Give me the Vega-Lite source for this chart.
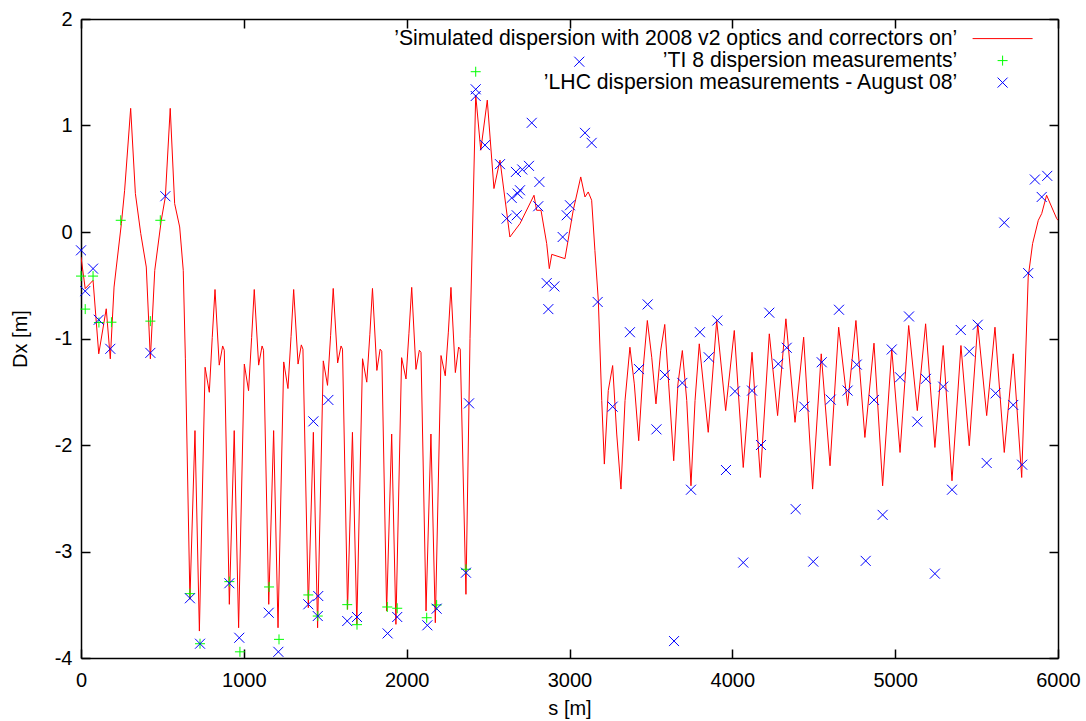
{
"$schema": "https://vega.github.io/schema/vega-lite/v6.json",
"width": 977, "height": 639,
"autosize": {"type": "none"},
"padding": {"left": 81, "top": 19, "right": 28, "bottom": 63},
"background": "white",
"config": {
 "font": "Liberation Sans",
 "view": {"stroke": null},
 "axis": {"grid": false, "domainColor": "black", "domainWidth": 1.5, "tickColor": "black", "tickWidth": 1.5, "tickSize": -9, "labelColor": "black", "labelFontSize": 20, "labelFont": "Liberation Sans", "titleFont": "Liberation Sans", "titleFontSize": 20, "titleFontWeight": "normal", "titleColor": "black", "labelFlush": false, "labelOverlap": false},
 "legend": {"orient": "none", "legendX": 911, "legendY": 9, "padding": 0,
   "labelFontSize": 21.2, "labelFont": "Liberation Sans", "labelColor": "black", "labelAlign": "right", "labelOffset": -56, "labelLimit": 2000,
   "symbolSize": 100, "symbolStrokeWidth": 1, "rowPadding": 0}
},
"datasets": {
 "sim": [
{"s":0,"dx":-0.235},{"s":26,"dx":-0.532},{"s":74,"dx":-0.454},{"s":109,"dx":-1.144},{"s":155,"dx":-0.721},{"s":180,"dx":-1.191},{"s":203,"dx":-0.517},{"s":217,"dx":-0.329},{"s":248,"dx":0.079},{"s":268,"dx":0.392},{"s":305,"dx":1.161},{"s":334,"dx":0.361},{"s":367,"dx":-0.015},{"s":401,"dx":-0.329},{"s":426,"dx":-1.191},{"s":453,"dx":-0.36},{"s":493,"dx":0.11},{"s":518,"dx":0.329},{"s":548,"dx":1.161},{"s":575,"dx":0.267},{"s":606,"dx":0.047},{"s":628,"dx":-0.36},{"s":641,"dx":-1.191},
{"s":669,"dx":-3.449},{"s":700,"dx":-1.865},{"s":727,"dx":-3.747},{"s":762,"dx":-1.27},{"s":788,"dx":-1.505},{"s":806,"dx":-0.99},{"s":823,"dx":-0.54},{"s":849,"dx":-1.25},{"s":870,"dx":-1.07},{"s":880,"dx":-1.11},
{"s":911,"dx":-3.496},{"s":941,"dx":-1.865},{"s":968,"dx":-3.716},{"s":1003,"dx":-1.24},{"s":1029,"dx":-1.49},{"s":1048,"dx":-0.99},{"s":1064,"dx":-0.54},{"s":1091,"dx":-1.25},{"s":1112,"dx":-1.07},{"s":1121,"dx":-1.11},
{"s":1153,"dx":-3.496},{"s":1183,"dx":-1.865},{"s":1210,"dx":-3.716},{"s":1245,"dx":-1.22},{"s":1271,"dx":-1.47},{"s":1290,"dx":-0.98},{"s":1306,"dx":-0.54},{"s":1333,"dx":-1.24},{"s":1353,"dx":-1.06},{"s":1363,"dx":-1.1},
{"s":1396,"dx":-3.528},{"s":1427,"dx":-1.881},{"s":1453,"dx":-3.716},{"s":1488,"dx":-1.21},{"s":1514,"dx":-1.44},{"s":1533,"dx":-0.97},{"s":1549,"dx":-0.53},{"s":1576,"dx":-1.23},{"s":1597,"dx":-1.07},{"s":1606,"dx":-1.1},
{"s":1637,"dx":-3.543},{"s":1667,"dx":-1.881},{"s":1694,"dx":-3.684},{"s":1729,"dx":-1.19},{"s":1755,"dx":-1.41},{"s":1774,"dx":-0.96},{"s":1790,"dx":-0.53},{"s":1817,"dx":-1.3},{"s":1837,"dx":-1.1},{"s":1847,"dx":-1.12},
{"s":1877,"dx":-3.559},{"s":1908,"dx":-1.897},{"s":1934,"dx":-3.684},{"s":1969,"dx":-1.18},{"s":1996,"dx":-1.38},{"s":2014,"dx":-0.95},{"s":2031,"dx":-0.52},{"s":2057,"dx":-1.29},{"s":2078,"dx":-1.11},{"s":2088,"dx":-1.13},
{"s":2119,"dx":-3.559},{"s":2149,"dx":-1.897},{"s":2176,"dx":-3.669},{"s":2211,"dx":-1.16},{"s":2237,"dx":-1.35},{"s":2256,"dx":-0.94},{"s":2272,"dx":-0.52},{"s":2299,"dx":-1.32},{"s":2319,"dx":-1.08},{"s":2329,"dx":-1.1},
{"s":2364,"dx":-3.402},{"s":2389,"dx":-1.0},{"s":2424,"dx":1.286},{"s":2455,"dx":0.768},{"s":2495,"dx":1.238},{"s":2536,"dx":0.408},{"s":2573,"dx":0.675},{"s":2634,"dx":-0.047},{"s":2696,"dx":0.079},{"s":2782,"dx":0.345},{"s":2798,"dx":0.204},{"s":2825,"dx":0.204},{"s":2860,"dx":-0.109},{"s":2876,"dx":-0.344},{"s":2891,"dx":-0.21},{"s":2972,"dx":-0.25},{"s":3023,"dx":0.204},{"s":3069,"dx":0.517},{"s":3095,"dx":0.329},{"s":3115,"dx":0.376},{"s":3136,"dx":0.298},{"s":3156,"dx":-0.172},{"s":3177,"dx":-0.643},{"s":3198,"dx":-1.583},{"s":3214,"dx":-2.179},{"s":3238,"dx":-1.489},{"s":3265,"dx":-1.254},{"s":3290,"dx":-1.897},{"s":3316,"dx":-2.414},{"s":3341,"dx":-1.583},{"s":3371,"dx":-1.082},{"s":3398,"dx":-1.426},{"s":3425,"dx":-1.96},{"s":3453,"dx":-1.27},{"s":3478,"dx":-0.831},{"s":3505,"dx":-1.176},{"s":3531,"dx":-1.614},{"s":3560,"dx":-1.113},{"s":3585,"dx":-0.868},{"s":3609,"dx":-1.426},{"s":3640,"dx":-2.148},{"s":3666,"dx":-1.426},{"s":3693,"dx":-1.113},{"s":3720,"dx":-1.583},{"s":3746,"dx":-2.383},{"s":3771,"dx":-1.583},{"s":3797,"dx":-1.05},{"s":3852,"dx":-1.881},{"s":3904,"dx":-0.831},{"s":3959,"dx":-1.677},{"s":4012,"dx":-0.925},{"s":4067,"dx":-2.211},{"s":4121,"dx":-1.129},{"s":4172,"dx":-2.305},{"s":4227,"dx":-0.956},{"s":4278,"dx":-1.724},{"s":4329,"dx":-0.815},{"s":4385,"dx":-1.787},{"s":4438,"dx":-0.988},{"s":4493,"dx":-2.414},{"s":4546,"dx":-1.144},{"s":4600,"dx":-2.195},{"s":4653,"dx":-0.894},{"s":4708,"dx":-1.63},{"s":4759,"dx":-0.831},{"s":4814,"dx":-1.929},{"s":4870,"dx":-1.044},{"s":4923,"dx":-2.383},{"s":4979,"dx":-1.097},{"s":5030,"dx":-2.07},{"s":5083,"dx":-0.878},{"s":5136,"dx":-1.677},{"s":5187,"dx":-0.862},{"s":5244,"dx":-2.023},{"s":5295,"dx":-1.066},{"s":5349,"dx":-2.336},{"s":5404,"dx":-1.066},{"s":5455,"dx":-2.007},{"s":5507,"dx":-0.862},{"s":5562,"dx":-1.724},{"s":5613,"dx":-0.894},{"s":5670,"dx":-2.07},{"s":5725,"dx":-1.144},{"s":5777,"dx":-2.305},{"s":5817,"dx":-0.423},{"s":5844,"dx":-0.109},{"s":5879,"dx":0.11},{"s":5900,"dx":0.173},{"s":5930,"dx":0.345},{"s":5992,"dx":0.126},{"s":6000,"dx":0.11}
 ],
 "meas": [
{"s":0,"dx":-0.414,"series":"ti8"},{"s":26,"dx":-0.724,"series":"ti8"},{"s":74,"dx":-0.414,"series":"ti8"},{"s":110,"dx":-0.85,"series":"ti8"},{"s":187,"dx":-0.847,"series":"ti8"},{"s":244,"dx":0.11,"series":"ti8"},{"s":426,"dx":-0.837,"series":"ti8"},{"s":487,"dx":0.11,"series":"ti8"},{"s":669,"dx":-3.396,"series":"ti8"},{"s":731,"dx":-3.866,"series":"ti8"},{"s":911,"dx":-3.283,"series":"ti8"},{"s":976,"dx":-3.942,"series":"ti8"},{"s":1155,"dx":-3.333,"series":"ti8"},{"s":1216,"dx":-3.825,"series":"ti8"},{"s":1396,"dx":-3.408,"series":"ti8"},{"s":1454,"dx":-3.606,"series":"ti8"},{"s":1635,"dx":-3.499,"series":"ti8"},{"s":1695,"dx":-3.687,"series":"ti8"},{"s":1881,"dx":-3.521,"series":"ti8"},{"s":1942,"dx":-3.533,"series":"ti8"},{"s":2123,"dx":-3.622,"series":"ti8"},{"s":2184,"dx":-3.502,"series":"ti8"},{"s":2364,"dx":-3.167,"series":"ti8"},{"s":2424,"dx":1.505,"series":"ti8"},
{"s":0,"dx":-0.172,"series":"lhc"},{"s":26,"dx":-0.555,"series":"lhc"},{"s":74,"dx":-0.344,"series":"lhc"},{"s":109,"dx":-0.824,"series":"lhc"},{"s":180,"dx":-1.097,"series":"lhc"},{"s":426,"dx":-1.135,"series":"lhc"},{"s":518,"dx":0.336,"series":"lhc"},{"s":669,"dx":-3.439,"series":"lhc"},{"s":731,"dx":-3.866,"series":"lhc"},{"s":911,"dx":-3.298,"series":"lhc"},{"s":972,"dx":-3.81,"series":"lhc"},{"s":1153,"dx":-3.575,"series":"lhc"},{"s":1212,"dx":-3.942,"series":"lhc"},{"s":1396,"dx":-3.496,"series":"lhc"},{"s":1427,"dx":-1.778,"series":"lhc"},{"s":1454,"dx":-3.606,"series":"lhc"},{"s":1457,"dx":-3.418,"series":"lhc"},{"s":1519,"dx":-1.577,"series":"lhc"},{"s":1635,"dx":-3.653,"series":"lhc"},{"s":1695,"dx":-3.615,"series":"lhc"},{"s":1883,"dx":-3.769,"series":"lhc"},{"s":1942,"dx":-3.615,"series":"lhc"},{"s":2127,"dx":-3.693,"series":"lhc"},{"s":2184,"dx":-3.537,"series":"lhc"},{"s":2364,"dx":-3.199,"series":"lhc"},{"s":2383,"dx":-1.609,"series":"lhc"},{"s":2424,"dx":1.34,"series":"lhc"},{"s":2424,"dx":1.277,"series":"lhc"},{"s":2481,"dx":0.816,"series":"lhc"},{"s":2573,"dx":0.637,"series":"lhc"},{"s":2614,"dx":0.126,"series":"lhc"},{"s":2645,"dx":0.32,"series":"lhc"},{"s":2682,"dx":0.361,"series":"lhc"},{"s":2696,"dx":0.392,"series":"lhc"},{"s":2676,"dx":0.157,"series":"lhc"},{"s":2671,"dx":0.564,"series":"lhc"},{"s":2710,"dx":0.587,"series":"lhc"},{"s":2751,"dx":0.621,"series":"lhc"},{"s":2768,"dx":1.025,"series":"lhc"},{"s":2815,"dx":0.47,"series":"lhc"},{"s":2808,"dx":0.242,"series":"lhc"},{"s":2860,"dx":-0.48,"series":"lhc"},{"s":2907,"dx":-0.511,"series":"lhc"},{"s":2870,"dx":-0.724,"series":"lhc"},{"s":2958,"dx":-0.047,"series":"lhc"},{"s":2983,"dx":0.157,"series":"lhc"},{"s":3003,"dx":0.251,"series":"lhc"},{"s":3060,"dx":1.599,"series":"lhc"},{"s":3095,"dx":0.931,"series":"lhc"},{"s":3136,"dx":0.837,"series":"lhc"},{"s":3173,"dx":-0.657,"series":"lhc"},{"s":3265,"dx":-1.64,"series":"lhc"},{"s":3371,"dx":-0.941,"series":"lhc"},{"s":3427,"dx":-1.287,"series":"lhc"},{"s":3480,"dx":-0.68,"series":"lhc"},{"s":3534,"dx":-1.853,"series":"lhc"},{"s":3586,"dx":-1.342,"series":"lhc"},{"s":3642,"dx":-3.841,"series":"lhc"},{"s":3693,"dx":-1.417,"series":"lhc"},{"s":3746,"dx":-2.42,"series":"lhc"},{"s":3801,"dx":-0.941,"series":"lhc"},{"s":3855,"dx":-1.176,"series":"lhc"},{"s":3908,"dx":-0.831,"series":"lhc"},{"s":3961,"dx":-2.235,"series":"lhc"},{"s":4016,"dx":-1.496,"series":"lhc"},{"s":4067,"dx":-3.104,"series":"lhc"},{"s":4121,"dx":-1.489,"series":"lhc"},{"s":4176,"dx":-2.0,"series":"lhc"},{"s":4227,"dx":-0.758,"series":"lhc"},{"s":4282,"dx":-1.238,"series":"lhc"},{"s":4334,"dx":-1.087,"series":"lhc"},{"s":4389,"dx":-2.602,"series":"lhc"},{"s":4442,"dx":-1.64,"series":"lhc"},{"s":4497,"dx":-3.095,"series":"lhc"},{"s":4549,"dx":-1.223,"series":"lhc"},{"s":4604,"dx":-1.574,"series":"lhc"},{"s":4655,"dx":-0.73,"series":"lhc"},{"s":4708,"dx":-1.489,"series":"lhc"},{"s":4764,"dx":-1.245,"series":"lhc"},{"s":4819,"dx":-3.088,"series":"lhc"},{"s":4870,"dx":-1.577,"series":"lhc"},{"s":4923,"dx":-2.656,"series":"lhc"},{"s":4979,"dx":-1.103,"series":"lhc"},{"s":5030,"dx":-1.364,"series":"lhc"},{"s":5085,"dx":-0.793,"series":"lhc"},{"s":5136,"dx":-1.781,"series":"lhc"},{"s":5189,"dx":-1.379,"series":"lhc"},{"s":5244,"dx":-3.208,"series":"lhc"},{"s":5295,"dx":-1.452,"series":"lhc"},{"s":5349,"dx":-2.42,"series":"lhc"},{"s":5403,"dx":-0.92,"series":"lhc"},{"s":5455,"dx":-1.122,"series":"lhc"},{"s":5507,"dx":-0.871,"series":"lhc"},{"s":5562,"dx":-2.169,"series":"lhc"},{"s":5617,"dx":-1.515,"series":"lhc"},{"s":5670,"dx":0.088,"series":"lhc"},{"s":5725,"dx":-1.624,"series":"lhc"},{"s":5780,"dx":-2.185,"series":"lhc"},{"s":5817,"dx":-0.386,"series":"lhc"},{"s":5858,"dx":0.493,"series":"lhc"},{"s":5900,"dx":0.329,"series":"lhc"},{"s":5934,"dx":0.527,"series":"lhc"}
 ]
},
"layer": [
 {
  "data": {"name": "sim"},
  "mark": {"type": "line", "strokeWidth": 1, "clip": true},
  "encoding": {
   "x": {"field": "s", "type": "quantitative", "scale": {"domain": [0, 6000], "nice": false, "zero": false},
         "axis": {"orient": "bottom", "values": [0,1000,2000,3000,4000,5000,6000], "labelPadding": 21, "labelExpr": "'' + datum.value", "title": "s [m]", "titlePadding": 8}},
   "y": {"field": "dx", "type": "quantitative", "scale": {"domain": [-4, 2], "nice": false, "zero": false},
         "axis": {"orient": "left", "values": [-4,-3,-2,-1,0,1,2], "labelPadding": 18, "labelExpr": "'' + datum.value", "title": "Dx [m]", "titlePadding": 24}},
   "color": {"datum": "sim", "type": "nominal", "title": null,
     "scale": {"domain": ["sim", "ti8", "lhc"], "range": ["#ff0000", "#00ff00", "#0000ff"]},
     "legend": {"title": null,
       "encode": {"symbols": {"update": {"shape": {"scale": "shape", "field": "value"}, "stroke": {"scale": "color", "field": "value"}, "fill": {"value": "transparent"}, "strokeWidth": {"value": 1}, "opacity": {"value": 1}}}},
       "labelExpr": "datum.label == 'sim' ? '’Simulated dispersion with 2008 v2 optics and correctors on’' : datum.label == 'ti8' ? '’TI 8 dispersion measurements’' : '’LHC dispersion measurements - August 08’'"}}
  }
 },
 {
  "data": {"name": "meas"},
  "mark": {"type": "point", "filled": false, "opacity": 1, "strokeWidth": 1, "size": 100},
  "encoding": {
   "x": {"field": "s", "type": "quantitative", "axis": {"orient": "top", "labels": false, "title": null, "values": [0,1000,2000,3000,4000,5000,6000]}},
   "y": {"field": "dx", "type": "quantitative", "axis": {"orient": "right", "labels": false, "title": null, "values": [-4,-3,-2,-1,0,1,2]}},
   "color": {"field": "series", "type": "nominal", "title": null,
     "legend": {"title": null,
       "encode": {"symbols": {"update": {"shape": {"scale": "shape", "field": "value"}, "stroke": {"scale": "color", "field": "value"}, "fill": {"value": "transparent"}, "strokeWidth": {"value": 1}, "opacity": {"value": 1}}}},
       "labelExpr": "datum.label == 'sim' ? '’Simulated dispersion with 2008 v2 optics and correctors on’' : datum.label == 'ti8' ? '’TI 8 dispersion measurements’' : '’LHC dispersion measurements - August 08’'"}},
   "shape": {"field": "series", "type": "nominal", "title": null, "scale": {"domain": ["sim", "ti8", "lhc"], "range": ["M-6,0L6,0", "M-1,0L1,0M0,-1L0,1", "M-1,-1L1,1M-1,1L1,-1"]}, "legend": null}
  }
 }
],
"resolve": {"axis": {"x": "independent", "y": "independent"}}
}
